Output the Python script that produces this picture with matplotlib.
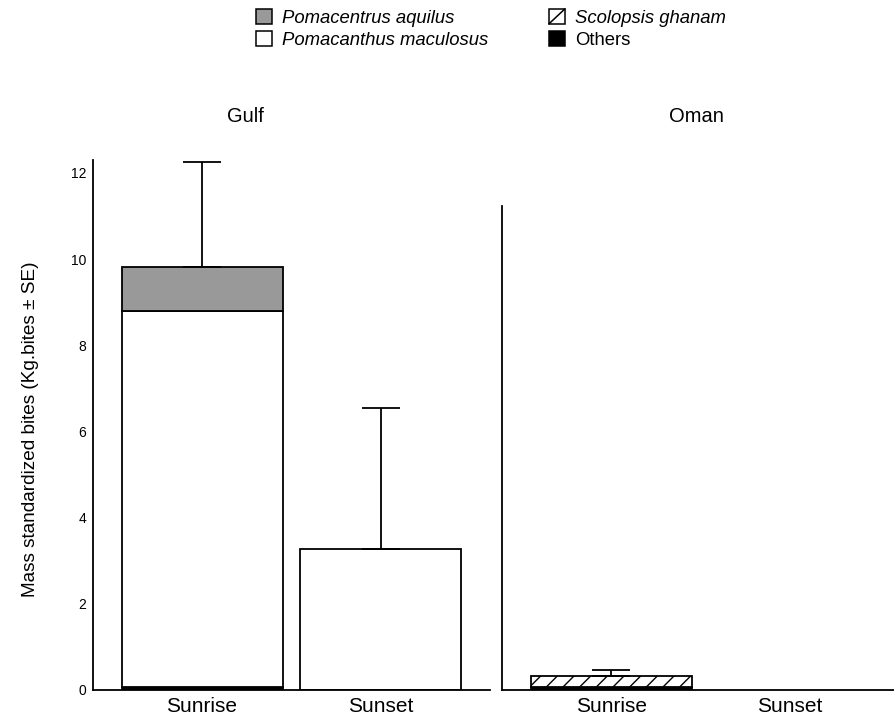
import matplotlib
matplotlib.use("Agg")
import matplotlib.pyplot as plt
from matplotlib.patches import Patch, Rectangle
from matplotlib.lines import Line2D
from matplotlib.legend_handler import HandlerBase
import numpy as np

plt.rcParams['font.family'] = ['Liberation Sans', 'DejaVu Sans']
plt.rcParams['hatch.linewidth'] = 1.0

# Data
times = ["Sunrise", "Sunset"]
species = ["Others", "Scolopsis ghanam", "Pomacanthus maculosus", "Pomacentrus aquilus"]
gulf_others = [0.06, 0.0]
gulf_scolopsis = [0.0, 0.0]
gulf_pomacanthus = [8.73, 3.27]
gulf_pomacentrus = [1.02, 0.0]
gulf_se = [2.44, 3.27]

oman_others = [0.08, 0.0]
oman_scolopsis = [0.24, 0.0]
oman_pomacanthus = [0.0, 0.0]
oman_pomacentrus = [0.0, 0.0]
oman_se = [0.14, 0.0]

y_ticks = [0, 2, 4, 6, 8, 10, 12]

styles = {
    "Others": dict(facecolor="black", hatch=None),
    "Scolopsis ghanam": dict(facecolor="white", hatch="//"),
    "Pomacanthus maculosus": dict(facecolor="white", hatch=None),
    "Pomacentrus aquilus": dict(facecolor="#999999", hatch=None),
}


class BoxHandler(HandlerBase):
    """Legend key: outlined square, with one diagonal stroke for hatched fills."""
    def create_artists(self, legend, orig_handle, xdescent, ydescent,
                       width, height, fontsize, trans):
        rect = Rectangle((-xdescent, -ydescent), width, height,
                         facecolor=orig_handle.get_facecolor(),
                         edgecolor="black", linewidth=1.1, transform=trans)
        arts = [rect]
        if orig_handle.get_hatch():
            arts.append(Line2D([-xdescent, -xdescent + width],
                               [-ydescent, -ydescent + height],
                               color="black", linewidth=1.1, transform=trans))
        return arts


fig = plt.figure(figsize=(8.94, 7.24), dpi=100)
ax_g = fig.add_axes([0.104, 0.047, 0.444, 0.732])
ax_o = fig.add_axes([0.5615, 0.047, 0.4385, 0.6685])


def draw_panel(ax, layers, se, ytop, xright):
    x = np.arange(len(times))
    bottom = np.zeros(len(times))
    for name, vals in zip(species, layers):
        vals = np.asarray(vals, dtype=float)
        for i in range(len(times)):
            if vals[i] > 0:
                st = styles[name]
                ax.bar(x[i], vals[i], bottom=bottom[i], width=0.9,
                       facecolor=st["facecolor"], edgecolor="black",
                       linewidth=1.3, hatch=st["hatch"], zorder=2)
        bottom = bottom + vals
    for i in range(len(times)):
        if se[i] > 0:
            ax.errorbar(x[i], bottom[i], yerr=[[0], [se[i]]], fmt="none",
                        ecolor="black", elinewidth=1.3, capsize=14,
                        capthick=1.3, zorder=3)
    ax.set_xlim(-0.61, xright)
    ax.set_ylim(0, ytop)
    ax.set_xticks(x)
    ax.set_xticklabels(times, fontsize=15)
    for s in ["top", "right"]:
        ax.spines[s].set_visible(False)
    for s in ["left", "bottom"]:
        ax.spines[s].set_linewidth(1.3)
    ax.tick_params(axis="both", length=0)
    ax.tick_params(axis="x", pad=5)


draw_panel(ax_g, [gulf_others, gulf_scolopsis, gulf_pomacanthus, gulf_pomacentrus],
           gulf_se, 12.3, 1.61)
draw_panel(ax_o, [oman_others, oman_scolopsis, oman_pomacanthus, oman_pomacentrus],
           oman_se, 11.23, 1.58)

ax_g.set_yticks(y_ticks)
ax_g.set_yticklabels([str(v) for v in y_ticks], fontsize=10)
ax_g.tick_params(axis="y", pad=5)
ax_o.set_yticks([])

fig.text(245 / 894, 1 - 117 / 724, "Gulf", ha="center", va="center", fontsize=14.5)
fig.text(696 / 894, 1 - 117 / 724, "Oman", ha="center", va="center", fontsize=14.5)
fig.text(31 / 894, 1 - 429 / 724, "Mass standardized bites (Kg.bites \u00b1 SE)",
         rotation=90, ha="center", va="center", fontsize=13.7)

legend_order = ["Pomacentrus aquilus", "Pomacanthus maculosus", "Scolopsis ghanam", "Others"]
handles = [Patch(facecolor=styles[n]["facecolor"], edgecolor="black",
                 hatch=("/" if styles[n]["hatch"] else None)) for n in legend_order]
leg = fig.legend(handles, legend_order, ncol=2, loc="upper left",
                 bbox_to_anchor=(256 / 894, 1 - 9 / 724), frameon=False,
                 fontsize=13.3, handlelength=0.85, handleheight=0.85,
                 handletextpad=0.55, labelspacing=0.22, columnspacing=3.3,
                 borderaxespad=0, borderpad=0,
                 handler_map={Patch: BoxHandler()})
for t in leg.get_texts():
    if t.get_text() != "Others":
        t.set_fontstyle("italic")

fig.savefig("out.png", dpi=100)
